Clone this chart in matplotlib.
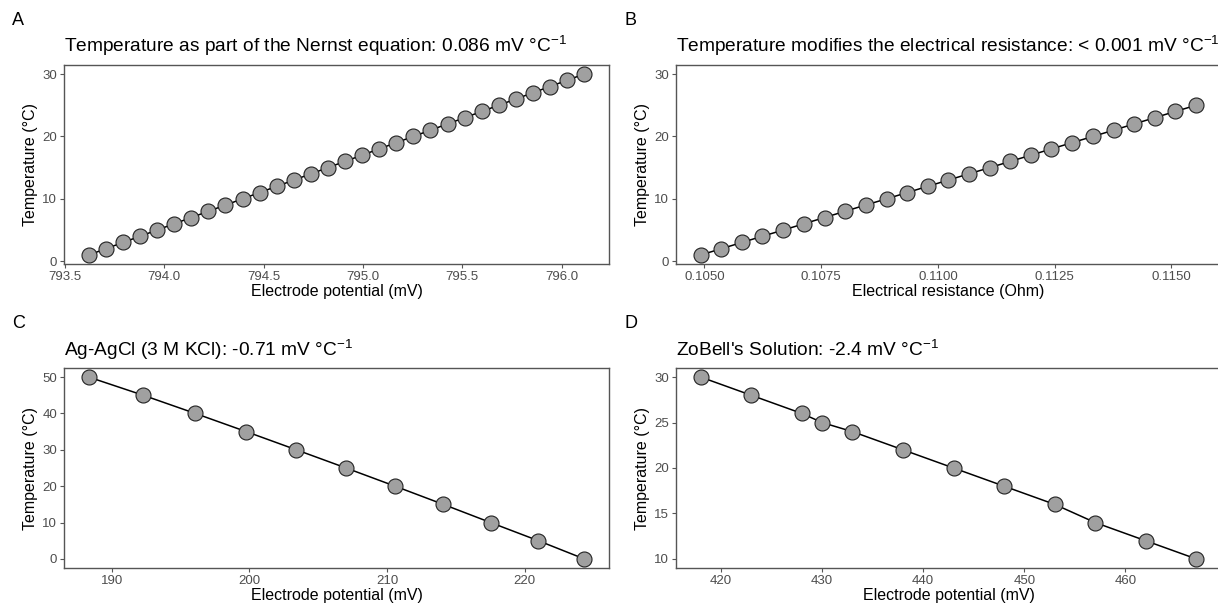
import matplotlib
matplotlib.use("Agg")
import matplotlib.pyplot as plt

# Panel A: Nernst temperature term
temp_a = list(range(1, 31))
potential_a = [793.620, 793.706, 793.792, 793.878, 793.964, 794.050, 794.136, 794.222,
               794.308, 794.394, 794.480, 794.566, 794.652, 794.738, 794.824, 794.910,
               794.996, 795.082, 795.168, 795.254, 795.340, 795.426, 795.512, 795.598,
               795.684, 795.770, 795.856, 795.942, 796.028, 796.114]

# Panel B: electrical resistance
temp_b = list(range(1, 26))
resistance_b = [0.10492, 0.10536, 0.10580, 0.10624, 0.10669, 0.10713, 0.10757, 0.10801,
                0.10845, 0.10890, 0.10934, 0.10978, 0.11022, 0.11066, 0.11111, 0.11155,
                0.11199, 0.11243, 0.11287, 0.11332, 0.11376, 0.11420, 0.11464, 0.11508,
                0.11553]

# Panel C: Ag-AgCl (3 M KCl)
temp_c = [50, 45, 40, 35, 30, 25, 20, 15, 10, 5, 0]
potential_c = [188.33, 192.29, 196.07, 199.77, 203.41, 207.02, 210.58, 214.08, 217.52,
               220.99, 224.32]

# Panel D: ZoBell's solution
temp_d = [30, 28, 26, 25, 24, 22, 20, 18, 16, 14, 12, 10]
potential_d = [418, 423, 428, 430, 433, 438, 443, 448, 453, 457, 462, 467]

plt.rcParams['font.family'] = ['Liberation Sans', 'DejaVu Sans']
plt.rcParams['mathtext.fontset'] = 'custom'
plt.rcParams['mathtext.rm'] = 'Liberation Sans'
plt.rcParams['mathtext.it'] = 'Liberation Sans:italic'
plt.rcParams['mathtext.bf'] = 'Liberation Sans:bold'

W, H = 1218, 604
fig = plt.figure(figsize=(W / 100, H / 100), dpi=100)


def box(left, right, top, bottom):
    return [left / W, 1 - bottom / H, (right - left) / W, (bottom - top) / H]


def panel(rect, x, y, xlim, ylim, yticks, xlabel, title, letter, xfmt=None):
    ax = fig.add_axes(rect)
    ax.plot(x, y, color='black', linewidth=1.1, zorder=2)
    ax.plot(x, y, linestyle='none', marker='o', markersize=10.8,
            markerfacecolor='#a0a0a0', markeredgecolor='#222222',
            markeredgewidth=0.8, zorder=3)
    ax.set_xlim(*xlim)
    ax.set_ylim(*ylim)
    ax.set_yticks(yticks)
    if xfmt:
        ax.xaxis.set_major_formatter(plt.FormatStrFormatter(xfmt))
    for s in ax.spines.values():
        s.set_color('#555555')
        s.set_linewidth(1.0)
    ax.tick_params(colors='#555555', labelcolor='#4d4d4d', labelsize=9.5,
                   length=3, width=0.8, pad=2)
    ax.set_xlabel(xlabel, fontsize=11.5, labelpad=1)
    ax.set_ylabel('Temperature (°C)', fontsize=11.5, labelpad=3)
    ax.set_title(title, loc='left', fontsize=13.8, pad=9)
    pos = ax.get_position()
    fig.text(pos.x0 - 52 / W, pos.y1 + 36 / H, letter, fontsize=13, va='bottom')
    return ax


ax_a = panel(box(64, 609, 65, 264), potential_a, temp_a, (793.495, 796.239),
             (-0.45, 31.45), [0, 10, 20, 30], 'Electrode potential (mV)',
             'Temperature as part of the Nernst equation: 0.086 mV °C$^{-1}$', 'A', '%.1f')
ax_a.set_xticks([793.5, 794.0, 794.5, 795.0, 795.5, 796.0])

ax_b = panel(box(676, 1221, 65, 264), resistance_b, temp_b, (0.10439, 0.11606),
             (-0.45, 31.45), [0, 10, 20, 30], 'Electrical resistance (Ohm)',
             'Temperature modifies the electrical resistance: < 0.001 mV °C$^{-1}$', 'B', '%.4f')
ax_b.set_xticks([0.1050, 0.1075, 0.1100, 0.1125, 0.1150])

ax_c = panel(box(64, 609, 368, 568), potential_c, temp_c, (186.53, 226.12),
             (-2.5, 52.5), [0, 10, 20, 30, 40, 50], 'Electrode potential (mV)',
             'Ag-AgCl (3 M KCl): -0.71 mV °C$^{-1}$', 'C')
ax_c.set_xticks([190, 200, 210, 220])

ax_d = panel(box(676, 1221, 368, 568), potential_d, temp_d, (415.55, 469.45),
             (9, 31), [10, 15, 20, 25, 30], 'Electrode potential (mV)',
             "ZoBell's Solution: -2.4 mV °C$^{-1}$", 'D')
ax_d.set_xticks([420, 430, 440, 450, 460])

fig.savefig('out.png', dpi=100)
